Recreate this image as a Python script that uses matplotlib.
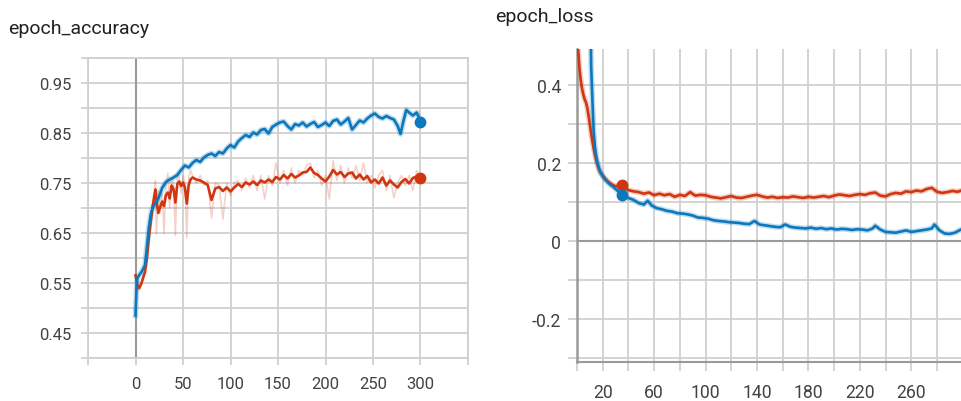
import matplotlib
matplotlib.use("Agg")
import matplotlib.pyplot as plt
import numpy as np

# ---------------- data ----------------
acc_blue_epochs = [0, 1, 2, 4, 6, 8, 10, 12, 14, 16, 18, 20, 22, 24, 26, 28, 32, 36, 40, 44, 48, 52, 56, 60,
                   64, 68, 72, 76, 80, 84, 88, 92, 96, 100, 104, 108, 112, 116, 120, 124, 128, 132, 136, 140,
                   144, 148, 152, 156, 160, 164, 168, 172, 176, 180, 184, 188, 192, 196, 200, 204, 208, 212,
                   216, 220, 224, 228, 232, 236, 240, 244, 248, 252, 256, 260, 264, 268, 272, 276, 279, 282,
                   285, 288, 292, 296, 300]
acc_blue = [0.485, 0.535, 0.560, 0.566, 0.571, 0.578, 0.586, 0.622, 0.660, 0.686, 0.700, 0.707, 0.712, 0.719,
            0.729, 0.740, 0.752, 0.757, 0.761, 0.766, 0.776, 0.785, 0.781, 0.790, 0.796, 0.792, 0.801, 0.806,
            0.809, 0.804, 0.812, 0.809, 0.819, 0.826, 0.821, 0.833, 0.840, 0.846, 0.842, 0.851, 0.847, 0.856,
            0.858, 0.849, 0.862, 0.867, 0.871, 0.873, 0.864, 0.857, 0.868, 0.865, 0.871, 0.863, 0.868, 0.872,
            0.862, 0.866, 0.871, 0.864, 0.874, 0.877, 0.867, 0.873, 0.880, 0.857, 0.866, 0.875, 0.871, 0.879,
            0.885, 0.889, 0.882, 0.879, 0.884, 0.880, 0.877, 0.864, 0.848, 0.874, 0.896, 0.891, 0.885, 0.891,
            0.873]

acc_red_epochs = [0, 1, 2, 4, 6, 8, 10, 12, 14, 16, 18, 20, 21, 22, 24, 26, 28, 30, 32, 34, 36, 38, 40, 42, 44,
                  46, 48, 50, 52, 54, 56, 58, 60, 64, 68, 72, 76, 80, 84, 88, 92, 96, 100, 104, 108, 112, 116,
                  120, 124, 128, 132, 136, 140, 144, 148, 152, 156, 160, 164, 168, 172, 176, 180, 184, 188, 192,
                  196, 200, 204, 208, 212, 216, 220, 224, 228, 232, 236, 240, 244, 248, 252, 256, 260, 264, 268,
                  272, 276, 280, 284, 288, 292, 296, 300]
acc_red = [0.565, 0.556, 0.546, 0.540, 0.548, 0.560, 0.572, 0.600, 0.640, 0.672, 0.702, 0.726, 0.737, 0.716,
           0.690, 0.702, 0.713, 0.704, 0.726, 0.731, 0.719, 0.745, 0.738, 0.711, 0.748, 0.753, 0.744, 0.751,
           0.741, 0.709, 0.746, 0.757, 0.761, 0.757, 0.755, 0.751, 0.746, 0.716, 0.739, 0.742, 0.734, 0.741,
           0.733, 0.741, 0.748, 0.742, 0.751, 0.747, 0.753, 0.746, 0.755, 0.751, 0.757, 0.752, 0.762, 0.757,
           0.766, 0.759, 0.768, 0.761, 0.765, 0.771, 0.772, 0.781, 0.770, 0.766, 0.759, 0.753, 0.763, 0.776,
           0.767, 0.772, 0.762, 0.769, 0.771, 0.759, 0.767, 0.757, 0.764, 0.751, 0.757, 0.749, 0.761, 0.745,
           0.755, 0.747, 0.741, 0.752, 0.758, 0.749, 0.760, 0.763, 0.761]
acc_red_raw = [0.565, 0.550, 0.540, 0.535, 0.550, 0.565, 0.575, 0.605, 0.645, 0.680, 0.710, 0.740, 0.755, 0.648,
               0.735, 0.690, 0.730, 0.650, 0.745, 0.770, 0.700, 0.760, 0.750, 0.645, 0.770, 0.760, 0.730, 0.765,
               0.750, 0.640, 0.760, 0.775, 0.765, 0.750, 0.765, 0.745, 0.755, 0.680, 0.750, 0.745, 0.678, 0.750,
               0.725, 0.750, 0.755, 0.735, 0.760, 0.740, 0.765, 0.735, 0.765, 0.718, 0.765, 0.745, 0.790, 0.750,
               0.775, 0.745, 0.780, 0.750, 0.775, 0.765, 0.785, 0.790, 0.760, 0.775, 0.745, 0.765, 0.718, 0.795,
               0.755, 0.785, 0.750, 0.780, 0.760, 0.785, 0.755, 0.790, 0.750, 0.765, 0.740, 0.765, 0.775, 0.735,
               0.765, 0.720, 0.750, 0.765, 0.745, 0.765, 0.735, 0.775, 0.761]

loss_red_epochs = [0, 2, 3, 4, 5, 6, 7, 8, 9, 10, 11, 12, 13, 14, 15, 16, 17, 18, 20, 22, 24, 26, 28, 30, 32, 34,
                   36, 38, 40, 44, 48, 52, 56, 60, 64, 68, 72, 76, 80, 84, 88, 92, 96, 100, 104, 108, 112, 116,
                   120, 124, 128, 132, 136, 140, 144, 148, 152, 156, 160, 164, 168, 172, 176, 180, 184, 188, 192,
                   196, 200, 204, 208, 212, 216, 220, 224, 228, 232, 236, 240, 244, 248, 252, 256, 260, 264, 268,
                   272, 276, 280, 284, 288, 292, 296, 300]
loss_red = [0.530, 0.440, 0.410, 0.390, 0.375, 0.363, 0.356, 0.342, 0.322, 0.300, 0.276, 0.256, 0.238, 0.222,
            0.208, 0.196, 0.186, 0.178, 0.168, 0.160, 0.153, 0.148, 0.144, 0.141, 0.143, 0.146, 0.143, 0.135,
            0.131, 0.128, 0.126, 0.122, 0.125, 0.118, 0.122, 0.118, 0.121, 0.114, 0.119, 0.116, 0.126, 0.117,
            0.119, 0.118, 0.114, 0.112, 0.110, 0.113, 0.116, 0.112, 0.111, 0.114, 0.117, 0.119, 0.115, 0.112,
            0.114, 0.111, 0.113, 0.112, 0.115, 0.113, 0.111, 0.114, 0.112, 0.114, 0.116, 0.113, 0.117, 0.120,
            0.118, 0.116, 0.119, 0.121, 0.119, 0.123, 0.125, 0.117, 0.115, 0.121, 0.124, 0.122, 0.128, 0.126,
            0.130, 0.128, 0.134, 0.137, 0.127, 0.124, 0.126, 0.129, 0.127, 0.131]

loss_blue_epochs = [10, 11, 12, 13, 14, 15, 16, 17, 18, 20, 22, 24, 26, 28, 30, 32, 34, 36, 40, 44, 48, 52, 55,
                    58, 62, 66, 70, 74, 78, 82, 86, 90, 94, 98, 102, 106, 110, 114, 118, 122, 126, 130, 134, 138,
                    142, 146, 150, 154, 158, 162, 166, 170, 174, 178, 182, 186, 190, 194, 198, 202, 206, 210, 214,
                    218, 222, 226, 230, 232, 236, 240, 244, 248, 252, 256, 260, 264, 268, 272, 276, 278, 282, 286,
                    290, 294, 298, 300]
loss_blue = [0.750, 0.450, 0.360, 0.280, 0.240, 0.215, 0.200, 0.188, 0.178, 0.167, 0.158, 0.151, 0.145, 0.140,
             0.134, 0.128, 0.122, 0.118, 0.111, 0.106, 0.098, 0.094, 0.104, 0.092, 0.085, 0.082, 0.078, 0.076,
             0.072, 0.071, 0.069, 0.066, 0.061, 0.060, 0.058, 0.054, 0.052, 0.051, 0.049, 0.048, 0.047, 0.045,
             0.044, 0.052, 0.043, 0.041, 0.039, 0.037, 0.036, 0.043, 0.037, 0.035, 0.034, 0.033, 0.035, 0.032,
             0.034, 0.031, 0.033, 0.030, 0.032, 0.031, 0.029, 0.031, 0.030, 0.028, 0.033, 0.040, 0.030, 0.024,
             0.023, 0.022, 0.025, 0.028, 0.024, 0.026, 0.028, 0.030, 0.033, 0.043, 0.028, 0.020, 0.019, 0.022,
             0.029, 0.032]

loss_marker_epoch = 36

acc_ytick_labels = ["0.45", "0.55", "0.65", "0.75", "0.85", "0.95"]
acc_xtick_labels = ["0", "50", "100", "150", "200", "250", "300"]
loss_ytick_labels = ["-0.2", "0", "0.2", "0.4"]
loss_xtick_labels = ["20", "60", "100", "140", "180", "220", "260"]

# ---------------- style ----------------
BLUE = "#0b77bd"
RED = "#d0360f"
GRID = "#d0d0d0"
ZERO = "#9a9a9a"
TXT = "#424242"
FONT = "Roboto"

plt.rcParams["font.family"] = [FONT, "DejaVu Sans"]

fig = plt.figure(figsize=(9.62, 4.02), dpi=100)

def style_axes(ax, fs, pad_y, pad_x, tick_len):
    for s in ax.spines.values():
        s.set_visible(False)
    ax.grid(True, which="both", color=GRID, linewidth=1.3)
    ax.set_axisbelow(True)
    ax.tick_params(axis="both", which="both", color=GRID, width=1.3, length=tick_len,
                   labelsize=fs, labelcolor=TXT, direction="out")
    ax.tick_params(axis="y", which="both", pad=pad_y)
    ax.tick_params(axis="x", which="both", pad=pad_x)

# ---------- accuracy ----------
ax1 = fig.add_axes([88 / 962, 43 / 402, 380 / 962, 300 / 402])
ax1.set_xlim(-50, 350)
ax1.set_ylim(0.40, 1.00)
ax1.set_xticks([int(t) for t in acc_xtick_labels])
ax1.set_xticklabels(acc_xtick_labels)
ax1.set_xticks([-50, 350], minor=True)
ax1.set_yticks([float(t) for t in acc_ytick_labels])
ax1.set_yticklabels(acc_ytick_labels)
ax1.set_yticks(np.round(np.arange(0.40, 1.001, 0.10), 2), minor=True)
style_axes(ax1, 12, 7, 8, 5)
for s in ax1.spines.values():
    s.set_visible(True)
    s.set_color(GRID)
    s.set_linewidth(1.3)
ax1.axvline(0, color=ZERO, linewidth=1.5, zorder=1.5)

ax1.plot(acc_red_epochs, acc_red_raw, color=RED, alpha=0.22, linewidth=1.2, zorder=2)
ax1.plot(acc_blue_epochs, acc_blue, color=BLUE, alpha=0.25, linewidth=4.0, zorder=2)
ax1.plot(acc_red_epochs, acc_red, color=RED, linewidth=1.9, zorder=3)
ax1.plot(acc_blue_epochs, acc_blue, color=BLUE, linewidth=1.9, zorder=4)
ax1.plot([acc_red_epochs[-1]], [acc_red[-1]], "o", color=RED, markersize=7.5, zorder=5)
ax1.plot([acc_blue_epochs[-1]], [acc_blue[-1]], "o", color=BLUE, markersize=7.5, zorder=5)

fig.text(8 / 962, 1 - 29 / 402, "epoch_accuracy", fontsize=14, color="#212121",
         ha="left", va="center")

# ---------- loss ----------
ax2 = fig.add_axes([577 / 962, 39.5 / 402, 385 / 962, 313 / 402])
ax2.set_xlim(0, 299.5)
ax2.set_ylim(-0.308, 0.494)
ax2.set_xticks([int(t) for t in loss_xtick_labels])
ax2.set_xticklabels(loss_xtick_labels)
ax2.set_xticks(list(range(0, 300, 40)), minor=True)
ax2.set_yticks([float(t) for t in loss_ytick_labels])
ax2.set_yticklabels(loss_ytick_labels)
ax2.set_yticks([-0.3, -0.1, 0.1, 0.3], minor=True)
style_axes(ax2, 12.7, 5, 9, 6.5)
ax2.axhline(0, color=ZERO, linewidth=1.5, zorder=1.5)
ax2.spines["left"].set_visible(True)
ax2.spines["left"].set_color(ZERO)
ax2.spines["left"].set_linewidth(1.8)
ax2.spines["bottom"].set_visible(True)
ax2.spines["bottom"].set_color(ZERO)
ax2.spines["bottom"].set_linewidth(1.5)

ax2.plot(loss_red_epochs, loss_red, color=RED, alpha=0.25, linewidth=4.0, zorder=2)
ax2.plot(loss_blue_epochs, loss_blue, color=BLUE, alpha=0.25, linewidth=4.0, zorder=2)
ax2.plot(loss_red_epochs, loss_red, color=RED, linewidth=1.9, zorder=3)
ax2.plot(loss_blue_epochs, loss_blue, color=BLUE, linewidth=1.9, zorder=4)
ri = loss_red_epochs.index(loss_marker_epoch)
bi = loss_blue_epochs.index(loss_marker_epoch)
ax2.plot([loss_marker_epoch - 1], [loss_red[ri]], "o", color=RED, markersize=7.5, zorder=5)
ax2.plot([loss_marker_epoch - 1], [loss_blue[bi]], "o", color=BLUE, markersize=7.5, zorder=5)

fig.text(495 / 962, 1 - 17 / 402, "epoch_loss", fontsize=14, color="#212121",
         ha="left", va="center")

fig.savefig("out.png", dpi=100, facecolor="white")
